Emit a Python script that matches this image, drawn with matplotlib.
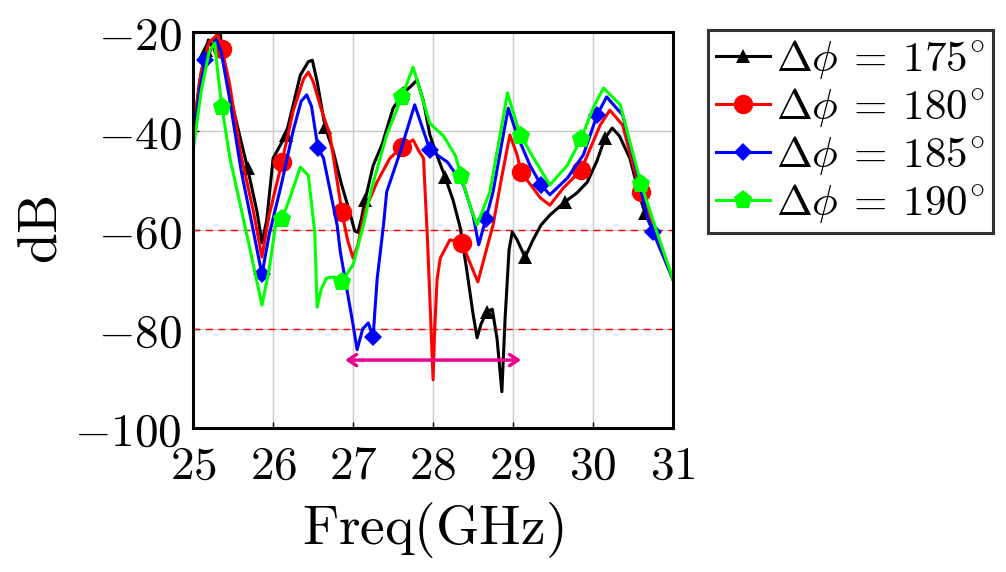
import numpy as np
import matplotlib
matplotlib.use("Agg")
import matplotlib.pyplot as plt
from matplotlib.ticker import FuncFormatter

plt.rcParams['mathtext.fontset'] = 'cm'
plt.rcParams['font.family'] = 'serif'
plt.rcParams['font.serif'] = ['DejaVu Serif']

# traced S-parameter curves, frequency in GHz, magnitude in dB
f_175 = [25.0, 25.08, 25.16, 25.19, 25.24, 25.3, 25.34, 25.375, 25.5, 25.68, 25.8, 25.86,
         25.92, 26.0, 26.16, 26.34, 26.44, 26.49, 26.55, 26.65, 26.75, 26.85, 26.95, 27.02,
         27.06, 27.1, 27.15, 27.25, 27.36, 27.5, 27.63, 27.72, 27.8, 27.88, 27.96, 28.05,
         28.15, 28.25, 28.34, 28.42, 28.5, 28.55, 28.6, 28.67, 28.74, 28.8, 28.86, 28.9,
         28.95, 28.99, 29.05, 29.15, 29.25, 29.35, 29.46, 29.65, 29.8, 29.93, 30.05, 30.15,
         30.24, 30.33, 30.46, 30.59, 30.65, 30.8, 31.0]
db_175 = [-41, -30, -23.6, -21.6, -23, -20.3, -20.5, -25.3, -35.4, -47.5, -56.4, -62.6,
          -58, -45.5, -40.8, -28.7, -26.0, -25.7, -30, -39.2, -44, -50.5, -56, -60.2,
          -60.5, -58, -54, -47, -42.8, -35.4, -32.3, -31, -29.7, -34, -40.8, -45,
          -49.3, -54, -59.6, -68, -77, -81.8, -79, -76.6, -76, -82, -92.7, -78,
          -64, -60.4, -62, -65.5, -62, -59, -57, -54.3, -52.5, -50.3, -46, -41.4,
          -39.4, -41, -45.5, -53.5, -56.6, -62, -70]
mark_175 = [25.16, 25.68, 26.16, 26.65, 27.15, 27.63, 28.15, 28.67, 29.15, 29.65, 30.15, 30.65]

f_180 = [25.0, 25.1, 25.2, 25.31, 25.36, 25.45, 25.6, 25.75, 25.82, 25.86, 25.95, 26.11,
         26.25, 26.38, 26.44, 26.5, 26.6, 26.71, 26.78, 26.86, 26.93, 27.0, 27.06, 27.15,
         27.3, 27.46, 27.61, 27.75, 27.82, 27.88, 27.93, 27.97, 28.0, 28.02, 28.05, 28.09,
         28.21, 28.36, 28.47, 28.56, 28.65, 28.75, 28.85, 28.96, 29.05, 29.1, 29.34, 29.46,
         29.63, 29.85, 30.09, 30.21, 30.37, 30.5, 30.6, 30.8, 31.0]
db_180 = [-40, -28, -22, -20.5, -23.5, -30, -45, -56, -62, -65.5, -57, -46.3,
          -36, -29.5, -28.1, -30, -35.5, -40.8, -48, -56.4, -62, -65.7, -63, -56,
          -50.3, -45.5, -43.2, -41.8, -44, -45.5, -62, -78, -90.3, -80, -70, -65.7,
          -62, -62.6, -67, -70.5, -65, -59, -50, -40.8, -44.8, -48.3, -53.5, -55,
          -51.5, -47.9, -38.8, -35.8, -38.8, -46.9, -52.3, -61.5, -70]
mark_180 = [25.36, 26.11, 26.86, 27.61, 28.36, 29.1, 29.85, 30.6]

f_185 = [25.0, 25.08, 25.15, 25.29, 25.35, 25.45, 25.6, 25.75, 25.86, 25.95, 26.1, 26.25,
         26.35, 26.42, 26.48, 26.56, 26.63, 26.8, 26.84, 27.0, 27.05, 27.12, 27.19, 27.25,
         27.3, 27.38, 27.42, 27.59, 27.77, 27.88, 27.96, 28.18, 28.38, 28.5, 28.57, 28.66,
         28.75, 28.9, 28.94, 29.05, 29.21, 29.35, 29.46, 29.68, 29.88, 30.05, 30.17, 30.37,
         30.55, 30.67, 30.75, 31.0]
db_185 = [-42, -32, -25.7, -21.6, -24, -33, -48, -60, -69, -61, -51, -40,
          -34, -32.7, -35, -43.4, -45.5, -59, -64.4, -79.2, -84.2, -80, -78.8, -81.6,
          -70, -59, -52.3, -44.2, -34.7, -40, -43.8, -46.3, -50.9, -57, -63, -57.8,
          -52.3, -38.8, -35.4, -40.8, -46.9, -50.9, -52.9, -49.5, -44.8, -36.8, -33.1, -36.8,
          -48.3, -57, -60.4, -70]
mark_185 = [25.15, 25.86, 26.56, 27.25, 27.96, 28.66, 29.35, 30.05, 30.75]

f_190 = [25.0, 25.1, 25.2, 25.27, 25.3, 25.36, 25.46, 25.68, 25.86, 25.95, 26.03, 26.11,
         26.21, 26.34, 26.44, 26.52, 26.55, 26.6, 26.67, 26.77, 26.86, 27.0, 27.13, 27.22,
         27.42, 27.61, 27.75, 27.88, 27.96, 28.13, 28.28, 28.35, 28.46, 28.55, 28.71, 28.86,
         28.93, 29.05, 29.1, 29.21, 29.46, 29.68, 29.85, 30.0, 30.13, 30.34, 30.46, 30.6,
         30.8, 31.0]
db_190 = [-44, -32, -24, -22.2, -27, -35.2, -45.5, -61.6, -75.2, -68, -59, -57.8,
          -53.5, -47.3, -49, -60.4, -75.6, -72, -69.7, -69.5, -70.5, -67, -59, -52.3,
          -40.8, -33.1, -27.1, -34.1, -38.5, -41, -45, -49.1, -55, -59, -52.3, -38.8,
          -32.3, -38.8, -41, -44.2, -50.9, -46.9, -41.6, -35.4, -31.3, -34.7, -42.2, -50.7,
          -60.5, -70]
mark_190 = [25.36, 26.11, 26.86, 27.61, 28.35, 29.1, 29.85, 30.6]

# bandwidth arrow and thresholds
band_lo, band_hi, band_db = 26.9, 29.1, -86.3
limits = [-60, -80]

series = [
    (f_175, db_175, mark_175, 'black', '^', 10, r'$\Delta\phi\:=\:175^{\circ}$'),
    (f_180, db_180, mark_180, 'red', 'o', 14, r'$\Delta\phi\:=\:180^{\circ}$'),
    (f_185, db_185, mark_185, 'blue', 'D', 9.5, r'$\Delta\phi\:=\:185^{\circ}$'),
    (f_190, db_190, mark_190, '#00ff00', 'p', 14, r'$\Delta\phi\:=\:190^{\circ}$'),
]

fig = plt.figure(figsize=(10.06, 5.72), dpi=100)
ax = fig.add_axes([0.192, 0.252, 0.477, 0.692])

for f, db, marks, col, mk, ms, lab in series:
    idx = [f.index(m) for m in marks]
    ax.plot(f, db, color=col, lw=2.2, marker=mk, markersize=ms, markevery=idx,
            markeredgewidth=0, label=lab, solid_joinstyle='round')

for lv in limits:
    ax.axhline(lv, color='red', lw=1.0, ls=(0, (5, 4)), zorder=1)

ax.annotate('', xy=(band_hi, band_db), xytext=(band_lo, band_db),
            arrowprops=dict(arrowstyle='<->,head_length=0.6,head_width=0.4',
                            color='#ec008c', lw=2.5, shrinkA=0, shrinkB=0))

ax.set_xlim(25, 31)
ax.set_ylim(-100, -20)
ax.set_xticks(np.arange(25, 32, 1))
ax.set_yticks(np.arange(-100, -19, 20))
fmt = FuncFormatter(lambda v, p: r'$%d$' % v)
ax.xaxis.set_major_formatter(fmt)
ax.yaxis.set_major_formatter(fmt)
ax.tick_params(labelsize=34, direction='in', length=4, width=1)
ax.tick_params(axis='x', pad=11)
ax.tick_params(axis='y', pad=8)
ax.grid(True, color='#c8c8c8', lw=1.0, zorder=0)
ax.set_axisbelow(True)
for sp in ax.spines.values():
    sp.set_linewidth(2.2)

ax.set_xlabel(r'$\mathrm{Freq(GHz)}$', fontsize=40, labelpad=8)
ax.set_ylabel(r'$\mathrm{dB}$', fontsize=40, labelpad=4)

leg = ax.legend(loc='upper left', bbox_to_anchor=(1.073, 1.005), borderaxespad=0,
                fontsize=31, frameon=True, fancybox=False, edgecolor='black',
                handlelength=1.25, handletextpad=0.15, labelspacing=0.12, borderpad=0.18)
leg.get_frame().set_linewidth(2.2)

fig.savefig('out.png', dpi=100)
